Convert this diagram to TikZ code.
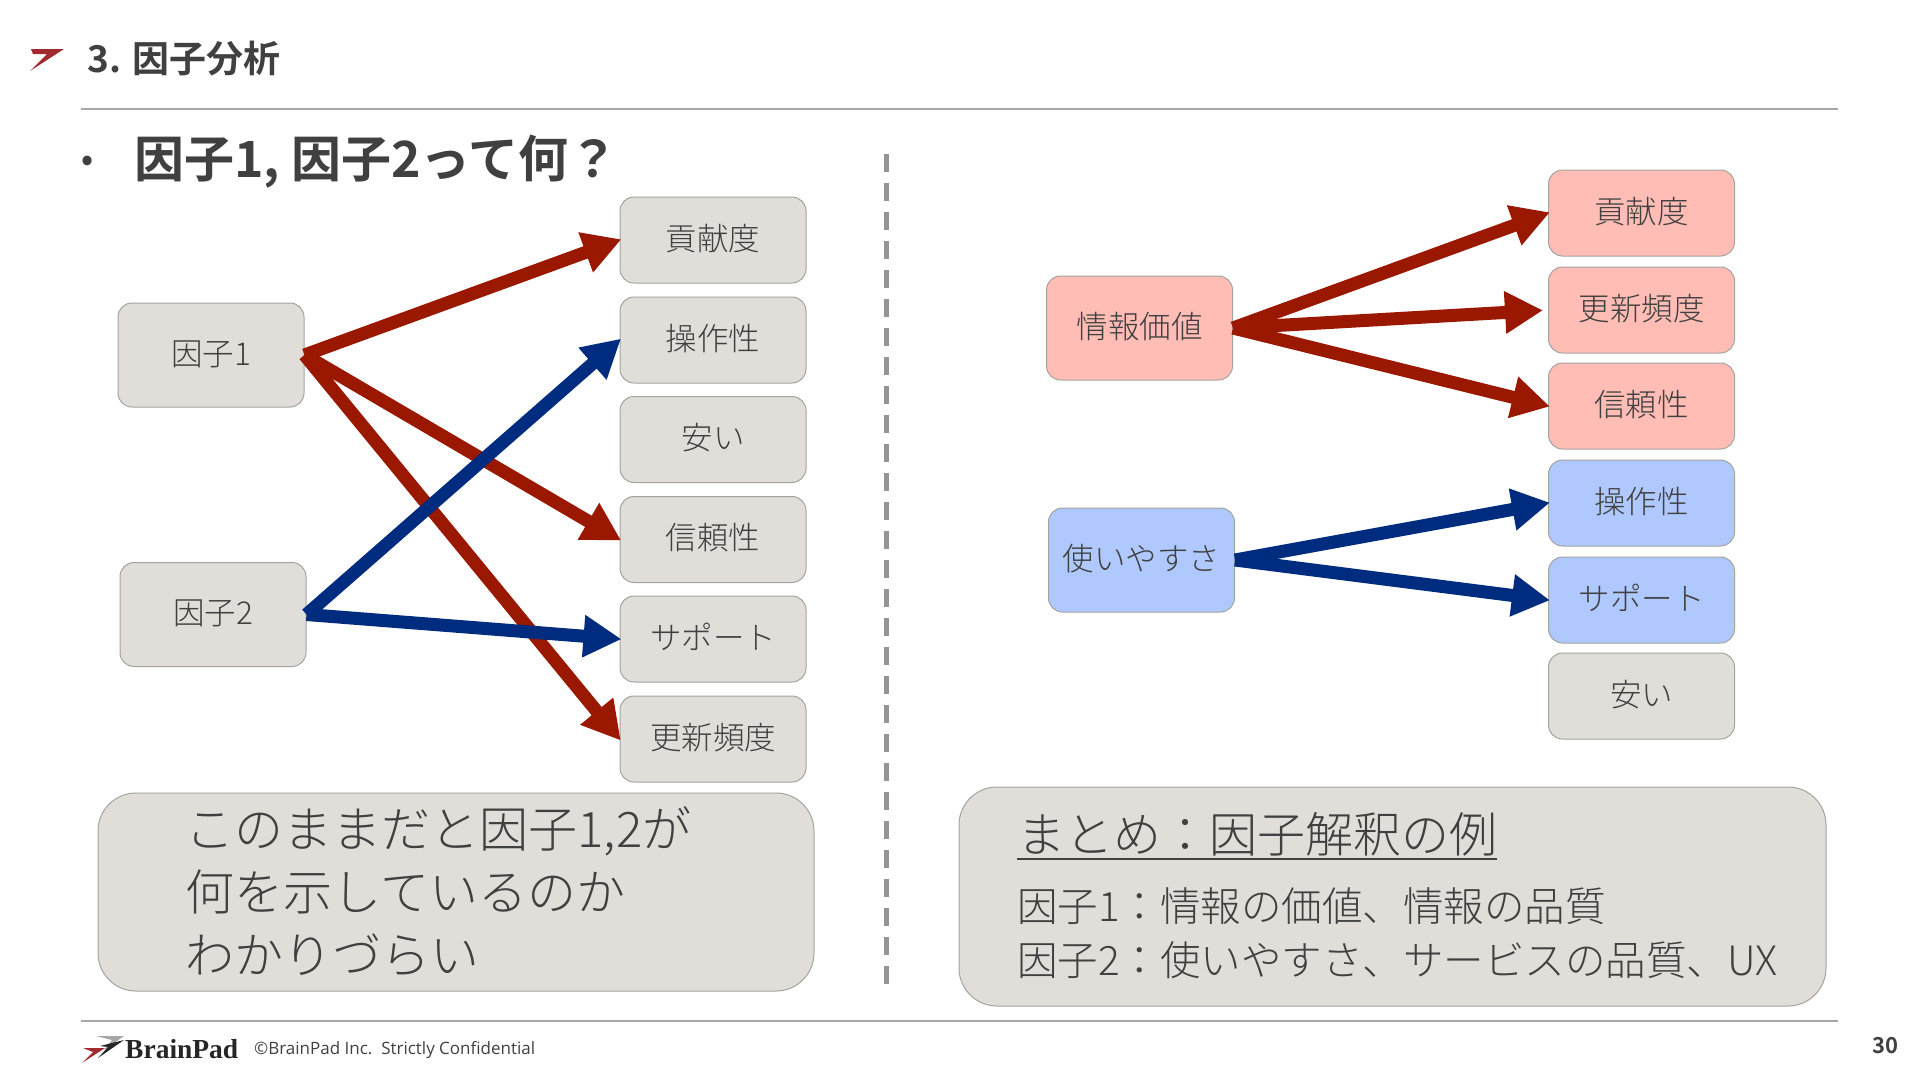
\documentclass[tikz,border=0pt]{standalone}
\usepackage{fontspec}
\usetikzlibrary{arrows.meta}
\setmainfont{Noto Sans CJK JP}
\newfontfamily\jp{Noto Sans CJK JP Light}
\newfontfamily\jpb{Noto Sans CJK JP Bold}
\newfontfamily\footf{Open Sans}
\newfontfamily\logof{Liberation Serif}
\definecolor{txt}{HTML}{404040}
\definecolor{boxg}{HTML}{E1DEDA}
\definecolor{edgeg}{HTML}{A3A3A0}
\definecolor{pinkf}{HTML}{FFBDB5}
\definecolor{bluef}{HTML}{AFC9FF}
\definecolor{redar}{HTML}{9A1700}
\definecolor{bluear}{HTML}{002C80}
\definecolor{rulec}{HTML}{A6A6A6}
\definecolor{logor}{HTML}{A02A30}
\tikzset{
  x=1pt,y=-1pt,
  rbox/.style={draw=edgeg,line width=1pt,rounded corners=14pt,minimum width=#1,inner sep=0pt,text=txt,text height=26pt,text depth=6pt,font=\jp\fontsize{31.5}{36}\selectfont},
  rbox/.default=186pt,
  tbox/.style={rbox,minimum height=86pt,fill=boxg},
  fbox/.style={rbox,minimum height=104pt},
  redarrow/.style={draw=redar,line width=13pt,shorten >=-2pt,-{Triangle[length=38pt,width=40pt]}},
  bluearrow/.style={draw=bluear,line width=13pt,shorten >=-2pt,-{Triangle[length=38pt,width=40pt]}},
  bigbox/.style={draw=edgeg,line width=1pt,rounded corners=38pt,fill=boxg},
  bigtext/.style={anchor=west,inner sep=0pt,text=txt,align=left},
  rulel/.style={draw=rulec,line width=2pt},
}
\begin{document}
\begin{tikzpicture}
\useasboundingbox (0,0) rectangle (1920,1080);
% header
\fill[logor] (31,49) -- (64,49) -- (30,71) -- (47,54) -- (33,54) -- cycle;
\node[anchor=west,inner sep=0pt,text=txt,font=\jpb\fontsize{37}{44}\selectfont] (title) at (87,59) {3. 因子分析};
\coordinate (hl) at (81,108.5); \coordinate (hr) at (1838,108.5);
\draw[rulel] (hl) -- (hr);
\node[inner sep=0pt,text=txt,font=\jpb\fontsize{32}{40}\selectfont] (bul) at (88,163) {•};
\node[anchor=west,inner sep=0pt,text=txt,font=\jpb\fontsize{50}{58}\selectfont] (q) at (134,162) {因子1, 因子2って何？};
% divider
\coordinate (d1) at (886.5,154); \coordinate (d2) at (886.5,984);
\draw[draw=rulec!90!black,line width=4.5pt,dash pattern=on 18pt off 11pt] (d1) -- (d2);
% left nodes
\node[tbox] (a1) at (713,240) {貢献度};
\node[tbox] (a2) at (713,340) {操作性};
\node[tbox] (a3) at (713,439.5) {安い};
\node[tbox] (a4) at (713,539.5) {信頼性};
\node[tbox] (a5) at (713,639) {サポート};
\node[tbox] (a6) at (713,739) {更新頻度};
\node[fbox,fill=boxg] (f1) at (211,355) {因子1};
\node[fbox,fill=boxg] (f2) at (213,614.5) {因子2};
\draw[redarrow] (f1.east) -- (a1.west);
\draw[redarrow] (f1.east) -- (a4.west);
\draw[redarrow] (f1.east) -- (a6.west);
\draw[bluearrow] (f2.east) -- (a2.west);
\draw[bluearrow] (f2.east) -- (a5.west);
% right nodes
\node[tbox,fill=pinkf] (b1) at (1641.5,213) {貢献度};
\node[tbox,fill=pinkf] (b2) at (1641.5,310) {更新頻度};
\node[tbox,fill=pinkf] (b3) at (1641.5,406) {信頼性};
\node[tbox,fill=bluef] (b4) at (1641.5,503) {操作性};
\node[tbox,fill=bluef] (b5) at (1641.5,600) {サポート};
\node[tbox] (b6) at (1641.5,696) {安い};
\node[fbox,fill=pinkf] (g1) at (1139.5,328) {情報価値};
\node[fbox,fill=bluef] (g2) at (1141.5,560) {使いやすさ};
\draw[redarrow] (g1.east) -- (b1.west);
\draw[redarrow,shorten >=5pt] (g1.east) -- (b2.west);
\draw[redarrow] (g1.east) -- (b3.west);
\draw[bluearrow] (g2.east) -- (b4.west);
\draw[bluearrow] (g2.east) -- (b5.west);
% bottom left
\path[bigbox] (98,793) rectangle (814,991);
\node[bigtext,font=\jp\fontsize{49}{63}\selectfont] (msg) at (185.5,891) {このままだと因子1,2が\\何を示しているのか\\わかりづらい};
% bottom right
\path[bigbox] (959,787) rectangle (1826,1006);
\node[bigtext,font=\jp\fontsize{48}{58}\selectfont] (sum) at (1017,834) {まとめ：因子解釈の例};
\draw[draw=txt,line width=2.5pt] ([yshift=-3pt]sum.south west) -- ([yshift=-3pt]sum.south east);
\node[bigtext,font=\jp\fontsize{40.5}{54}\selectfont] (ex) at (1017,933) {因子1：情報の価値、情報の品質\\因子2：使いやすさ、サービスの品質、UX};
% footer
\coordinate (fl) at (81,1021); \coordinate (fr) at (1838,1021);
\draw[rulel] (fl) -- (fr);
\fill[gray!70] (96,1036) -- (124,1036) -- (104,1050) -- (112,1040) -- cycle;
\fill[logor] (83,1048) -- (105,1048) -- (82,1063) -- (93,1052) -- cycle;
\fill[black!85] (100,1046) -- (124,1040) -- (98,1058) -- (108,1047) -- cycle;
\node[anchor=west,inner sep=0pt,text=black!85,font=\logof\bfseries\fontsize{27.5}{32}\selectfont] (brand) at (125,1049) {BrainPad};
\node[anchor=west,inner sep=0pt,text=txt,font=\footf\fontsize{17}{20}\selectfont] (copy) at (254,1050) {©BrainPad Inc.\ \ Strictly Confidential};
\node[anchor=east,inner sep=0pt,text=txt,font=\jpb\fontsize{22}{24}\selectfont] (pg) at (1899,1046) {30};
\end{tikzpicture}
\end{document}
